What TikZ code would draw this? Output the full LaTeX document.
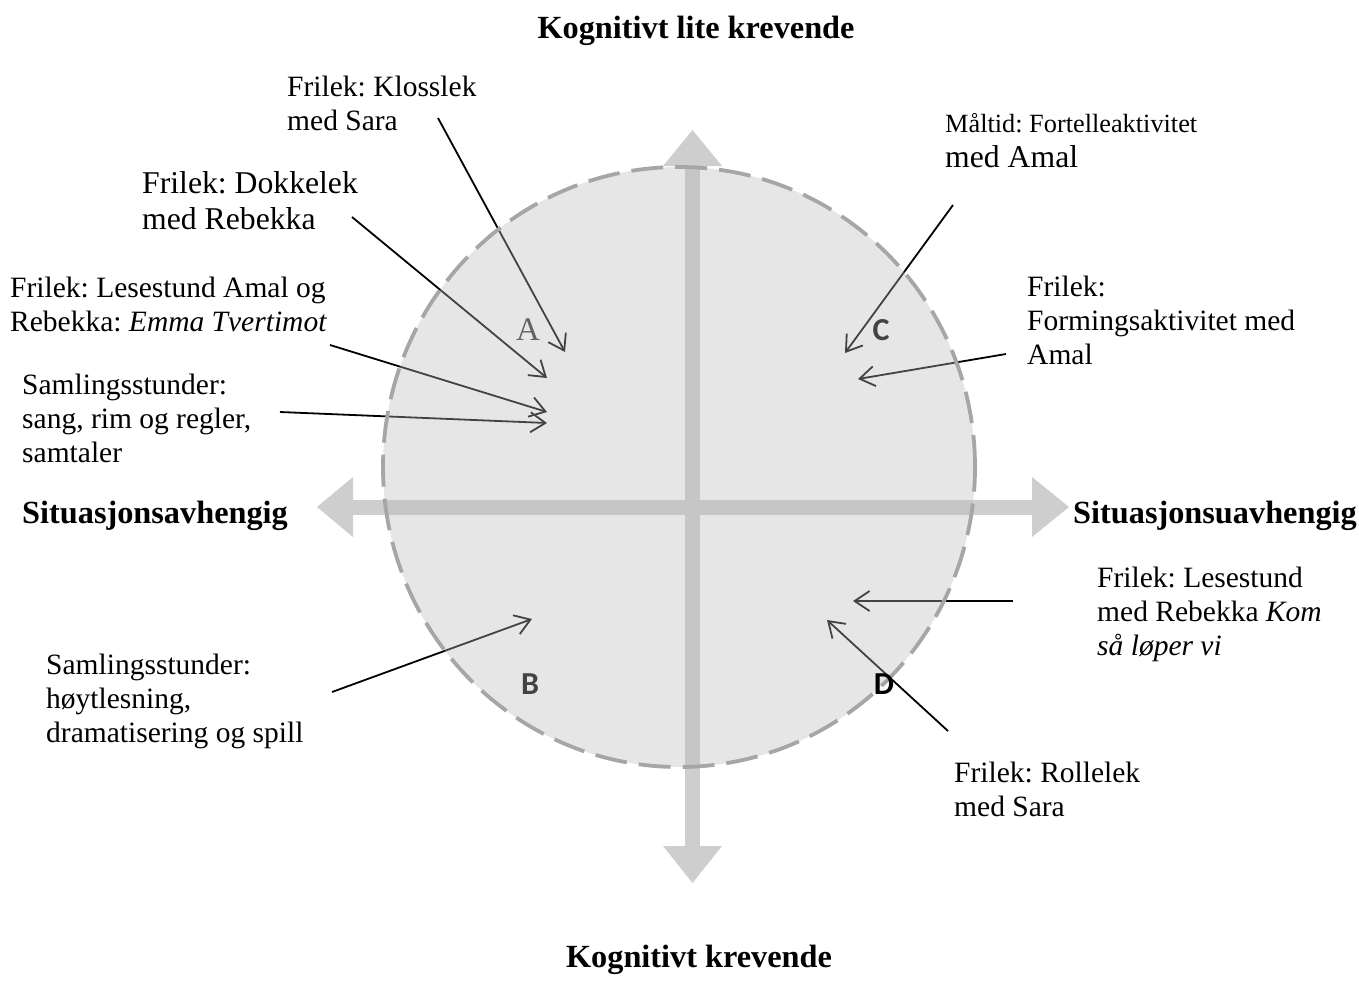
\documentclass[tikz,border=0pt]{standalone}
\usepackage{fontspec}
\setmainfont{Liberation Serif}
\newfontfamily\quadsans{Carlito}
\usetikzlibrary{arrows.meta}
\frenchspacing

\definecolor{barcol}{RGB}{206,206,206}
\definecolor{discfill}{RGB}{186,186,186}
\definecolor{disclinecol}{RGB}{166,166,166}

\begin{document}
\frenchspacing
\begin{tikzpicture}[x=1pt,y=-1pt,
  label/.style={anchor=north west, inner sep=0pt, align=left,
    font=\fontsize{29.5}{34}\selectfont\frenchspacing},
  biglabel/.style={label, font=\fontsize{31.7}{36}\selectfont\frenchspacing},
  axistitle/.style={anchor=base, inner sep=0pt,
    font=\fontsize{32.3}{38}\selectfont\bfseries},
  link/.style={draw=black, line width=1.8pt,
    -{Straight Barb[length=15pt,width=20pt]}},
  bar/.style={fill=barcol},
  quadletter/.style={inner sep=0pt, font=\fontsize{32}{32}\selectfont\quadsans\bfseries}]
\useasboundingbox (0,0) rectangle (1359,999);

% axes: two thick bars with triangular heads
\fill[bar] (685,166) rectangle (700,846);
\fill[bar] (353,499.5) rectangle (1032,514.5);
\fill[bar] (663,166) -- (692.5,130) -- (722,166) -- cycle;
\fill[bar] (663,846) -- (692.5,883) -- (722,846) -- cycle;
\fill[bar] (353,477) -- (317,507) -- (353,537) -- cycle;
\fill[bar] (1032,477) -- (1069,507) -- (1032,537) -- cycle;

% end points of the pointers
\coordinate (kl0) at (438,118);  \coordinate (kl1) at (565,352);
\coordinate (do0) at (352,217);  \coordinate (do1) at (547,378);
\coordinate (le0) at (330,345);  \coordinate (le1) at (547,412);
\coordinate (sa0) at (280,412);  \coordinate (sa1) at (547,423);
\coordinate (ma0) at (953,205);  \coordinate (ma1) at (845,353);
\coordinate (fo0) at (1006,354); \coordinate (fo1) at (858,379);
\coordinate (lr0) at (1013,601); \coordinate (lr1) at (853,601);
\coordinate (ro0) at (948,731);  \coordinate (ro1) at (827,620);
\coordinate (ho0) at (332,692);  \coordinate (ho1) at (532,619);

% pointers
\draw[link] (kl0) -- (kl1);
\draw[link] (do0) -- (do1);
\draw[link] (le0) -- (le1);
\draw[link] (sa0) -- (sa1);
\draw[link] (ma0) -- (ma1);
\draw[link] (fo0) -- (fo1);
\draw[link] (lr0) -- (lr1);
\draw[link] (ro0) -- (ro1);
\draw[link] (ho0) -- (ho1);

% quadrant letters under the tinted disc
\node[inner sep=0pt, text={rgb,255:red,50;green,50;blue,50},
  font=\fontsize{33}{33}\selectfont] (qa) at (528,330) {A};
\node[quadletter] (qb) at (530,684) {B};
\node[quadletter] (qc) at (881,330) {C};

% translucent disc with dashed rim
\fill[discfill, fill opacity=0.36] (679,467) ellipse [x radius=296pt, y radius=300pt];
\draw[disclinecol, line width=3.8pt, dash pattern=on 32pt off 12pt]
  (679,467) ellipse [x radius=296pt, y radius=300pt];

\node[quadletter] (qd) at (884,684) {D};

% axis titles
\node[axistitle] (top) at (696,38) {Kognitivt lite krevende};
\node[axistitle] (bottom) at (699,967) {Kognitivt krevende};
\node[axistitle, anchor=base west] (left) at (22,523) {Situasjonsavhengig};
\node[axistitle, anchor=base east] (right) at (1357,523) {Situasjonsuavhengig};

% activity labels
\node[label] (klosslek) at (287,76) {Frilek: Klosslek\\med Sara};
\node[biglabel] (dokkelek) at (142,171) {Frilek: Dokkelek\\med Rebekka};
\node[label] (lesestund) at (10,277) {Frilek: Lesestund Amal og\\Rebekka: \textit{Emma Tvertimot}};
\node[label] (samlingA) at (22,374) {Samlingsstunder:\\sang, rim og regler,\\samtaler};
\node[biglabel, font=\fontsize{31.7}{35.5}\selectfont\frenchspacing] (maltid) at (945,113)
  {{\fontsize{26.3}{35.5}\selectfont Måltid: Fortelleaktivitet}\\med Amal};
\node[label] (forming) at (1027,276) {Frilek:\\Formingsaktivitet med\\Amal};
\node[label] (lesestundR) at (1097,567) {Frilek: Lesestund\\med Rebekka \textit{Kom}\\\textit{så løper vi}};
\node[label] (samlingB) at (46,654) {Samlingsstunder:\\høytlesning,\\dramatisering og spill};
\node[label] (rollelek) at (954,762) {Frilek: Rollelek\\med Sara};
\end{tikzpicture}
\end{document}
